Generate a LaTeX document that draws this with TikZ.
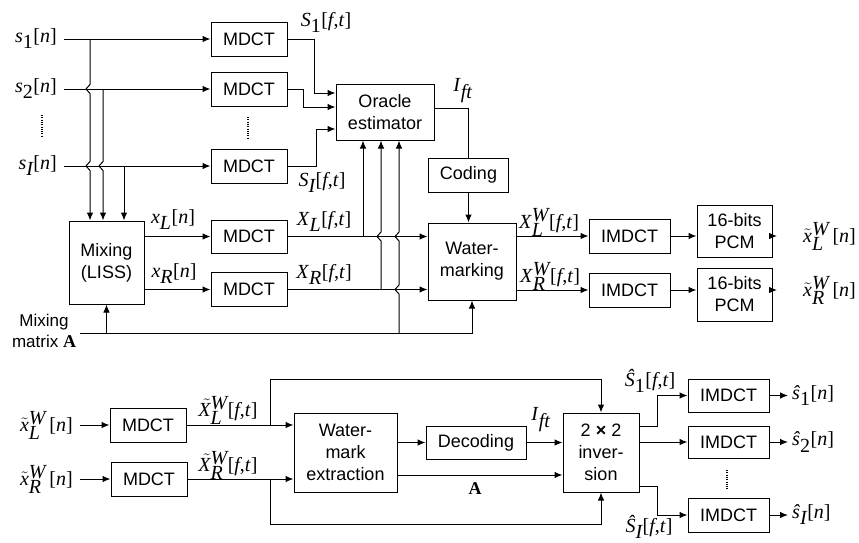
\documentclass[tikz,border=0pt]{standalone}
\usepackage{fontspec}
\setmainfont{Liberation Serif}
\setsansfont{Liberation Sans}
\usetikzlibrary{arrows.meta,calc}
\newcommand{\vi}[1]{\textit{#1}}
\newcommand{\rsub}[1]{$_{\textrm{#1}}$}
\newcommand{\isub}[1]{$_{\textit{#1}}$}
\newcommand{\wsub}[1]{$^{\textit{W}}_{\textit{#1}}$}
\newcommand{\tlx}{$\tilde{\textit{x}}$}
\newcommand{\tlX}{$\skew{4}\tilde{\textit{X}}$}
\begin{document}
\begin{tikzpicture}[x=1pt,y=-1pt,
  box/.style={draw, line width=1pt, font=\sffamily\fontsize{18}{22}\selectfont, align=center, inner sep=0pt},
  lbl/.style={font=\fontsize{20}{22}\selectfont, inner sep=0pt},
  arr/.style={line width=1pt, -{Latex[length=8pt,width=6.5pt]}},
  ln/.style={line width=1pt},
  dotcol/.style={line width=1.1pt, dash pattern=on 1pt off 1.3pt}]
\useasboundingbox (0,0) rectangle (859,542);

% ---------------- top section ----------------
\node[box, minimum width=76pt, minimum height=34pt] (m1) at (249,39) {MDCT};
\node[box, minimum width=76pt, minimum height=34pt] (m2) at (249,89) {MDCT};
\node[box, minimum width=76pt, minimum height=34pt] (m3) at (249,166) {MDCT};
\node[box, minimum width=75pt, minimum height=83pt] (mix) at (106.5,262.5) {Mixing\\(LISS)};
\node[box, minimum width=76pt, minimum height=33pt] (mL) at (249,236.5) {MDCT};
\node[box, minimum width=76pt, minimum height=34pt] (mR) at (249,289.5) {MDCT};
\node[box, minimum width=98pt, minimum height=56pt] (orc) at (385,112) {Oracle\\estimator};
\node[box, minimum width=80pt, minimum height=34pt] (cod) at (468.5,175) {Coding};
\node[box, minimum width=88pt, minimum height=77pt] (wm) at (472,261.5) {Water-\\marking};
\node[box, minimum width=81pt, minimum height=34pt] (iL) at (629.5,236) {IMDCT};
\node[box, minimum width=81pt, minimum height=34pt] (iR) at (629.5,290) {IMDCT};
\node[box, minimum width=75pt, minimum height=52pt] (pL) at (734.5,231) {16-bits\\PCM};
\node[box, minimum width=75pt, minimum height=53pt] (pR) at (734.5,294.5) {16-bits\\PCM};

\node[lbl, anchor=east, inner xsep=7pt] (ls1) at (64,39) {\vi{s}\rsub{1}[\vi{n}]};
\node[lbl, anchor=east, inner xsep=7pt] (ls2) at (64,89) {\vi{s}\rsub{2}[\vi{n}]};
\node[lbl, anchor=east, inner xsep=7pt] (lsI) at (64,166) {\vi{s}\isub{I}[\vi{n}]};
\draw[dotcol] (42,115) -- (42,137);
\draw[dotcol] (248,117) -- (248,139);

\node[lbl] (lS1) at (326,22) {\vi{S}\rsub{1}[\vi{f},\vi{t}]};
\node[lbl] (lSI) at (322,182) {\vi{S}\isub{I}[\vi{f},\vi{t}]};
\node[lbl] (lIft) at (463,91) {\vi{I}\isub{ft}};
\node[lbl] (lxL) at (173,220) {\vi{x}\isub{L}[\vi{n}]};
\node[lbl] (lxR) at (174,274) {\vi{x}\isub{R}[\vi{n}]};
\node[lbl] (lXL) at (324,221) {\vi{X}\isub{L}[\vi{f},\vi{t}]};
\node[lbl] (lXR) at (324,274) {\vi{X}\isub{R}[\vi{f},\vi{t}]};
\node[lbl] (lXLW) at (549,222) {\vi{X}\wsub{L}[\vi{f},\vi{t}]};
\node[lbl] (lXRW) at (550,276) {\vi{X}\wsub{R}[\vi{f},\vi{t}]};
\node[lbl, anchor=west, inner xsep=13pt] (oL) at (790,236) {\tlx\wsub{L}\,[\vi{n}]};
\node[lbl, anchor=west, inner xsep=13pt] (oR) at (790,290) {\tlx\wsub{R}\,[\vi{n}]};
\node[font=\sffamily\fontsize{17}{21}\selectfont, align=center, inner sep=0pt] (mmx) at (44,331)
  {Mixing\\matrix {\rmfamily\bfseries\fontsize{18}{21}\selectfont A}};

% sources to MDCT
\draw[arr] (ls1.east) -- (m1.west);
\draw[arr] (ls2.east) -- (m2.west);
\draw[arr] (lsI.east) -- (m3.west);

% branches to mixing
\coordinate (j1) at (90,39);
\coordinate (j2) at (103,89);
\coordinate (j3) at (124,166);
\draw[arr] (j1) -- (90,84.5) -- (86,89) -- (90,93.5) -- (90,161.5) -- (86,166) -- (90,170.5) -- (j1 |- mix.north);
\draw[arr] (j2) -- (103,161.5) -- (99,166) -- (103,170.5) -- (j2 |- mix.north);
\draw[arr] (j3) -- (j3 |- mix.north);

% MDCT to oracle
\draw[arr] (m1.east) -- ++(27,0) |- ([yshift=19pt]orc.west);
\draw[arr] (m2.east) -- ++(16,0) |- ([yshift=5pt]orc.west);
\draw[arr] (m3.east) -- ++(29,0) |- ([yshift=-17pt]orc.west);

% mixing to MDCT
\draw[arr] (mix.east |- mL.west) -- (mL.west);
\draw[arr] (mix.east |- mR.west) -- (mR.west);

% MDCT to watermarking
\draw[arr] (mL.east) -- (wm.west |- mL.east);
\draw[arr] (mR.east) -- (wm.west |- mR.east);

% vertical feeds to oracle
\coordinate (k1) at (363,236.5);
\coordinate (k2) at (381,289.5);
\coordinate (k3) at (399,333);
\coordinate (mA) at (80,333);
\draw[arr] (k1) -- (k1 |- orc.south);
\draw[arr] (k2) -- (381,241) -- (377,236.5) -- (381,232) -- (k2 |- orc.south);
\draw[arr] (k3) -- (399,294) -- (395,289.5) -- (399,285) -- (399,241) -- (395,236.5) -- (399,232) -- (k3 |- orc.south);

% mixing matrix
\draw[arr] (mA) -| (wm.south);
\draw[arr] (mix.south |- mA) -- (mix.south);

% oracle to coding to watermarking
\draw[ln] ([yshift=4pt]orc.east) -| (cod.north);
\draw[arr] (cod.south) -- (cod.south |- wm.north);

% outputs
\draw[arr] (wm.east |- iL.west) -- (iL.west);
\draw[arr] (wm.east |- iR.west) -- (iR.west);
\draw[arr] (iL.east) -- (pL.west |- iL.east);
\draw[arr] (iR.east) -- (pR.west |- iR.east);
\draw[arr] (pL.east |- oL.west) -- ([xshift=-13pt]oL.west);
\draw[arr] (pR.east |- oR.west) -- ([xshift=-13pt]oR.west);

% ---------------- bottom section ----------------
\node[box, minimum width=76pt, minimum height=34pt] (mbl) at (148,425) {MDCT};
\node[box, minimum width=76pt, minimum height=34pt] (mbr) at (149,479) {MDCT};
\node[box, minimum width=103pt, minimum height=79pt] (ext) at (345.5,452.5) {Water-\\mark\\extraction};
\node[box, minimum width=100pt, minimum height=33pt] (dec) at (476,442.5) {Decoding};
\node[box, minimum width=76pt, minimum height=79pt] (inv) at (601,452.5) {2 \textbf{×} 2\\inver-\\sion};
\node[box, minimum width=81pt, minimum height=33pt] (ib1) at (728.5,395.5) {IMDCT};
\node[box, minimum width=81pt, minimum height=32pt] (ib2) at (728.5,442) {IMDCT};
\node[box, minimum width=81pt, minimum height=34pt] (ib3) at (728.5,515) {IMDCT};

\node[lbl, anchor=east, inner xsep=7pt] (iLb) at (80,425) {\tlx\wsub{L}\,[\vi{n}]};
\node[lbl, anchor=east, inner xsep=7pt] (iRb) at (80,479) {\tlx\wsub{R}\,[\vi{n}]};
\node[lbl] (lXtL) at (228,410) {\tlX\wsub{L}[\vi{f},\vi{t}]};
\node[lbl] (lXtR) at (228,465) {\tlX\wsub{R}[\vi{f},\vi{t}]};
\node[lbl] (lIft2) at (541,420) {\vi{I}\isub{ft}};
\node[lbl, font=\rmfamily\bfseries\fontsize{18}{20}\selectfont] (lA) at (475,489) {A};
\node[lbl] (lSh1) at (650,381) {\vi{\^S}\rsub{1}[\vi{f},\vi{t}]};
\node[lbl] (lShI) at (649,527) {\vi{\^S}\isub{I}[\vi{f},\vi{t}]};
\node[lbl, anchor=west, inner xsep=4pt] (os1) at (788,395.5) {\vi{\^s}\rsub{1}[\vi{n}]};
\node[lbl, anchor=west, inner xsep=4pt] (os2) at (788,442) {\vi{\^s}\rsub{2}[\vi{n}]};
\node[lbl, anchor=west, inner xsep=4pt] (osI) at (788,515) {\vi{\^s}\isub{I}[\vi{n}]};
\draw[dotcol] (727,470) -- (727,489);

\draw[arr] (iLb.east) -- (mbl.west);
\draw[arr] (iRb.east) -- (mbr.west);
\draw[arr] (mbl.east) -- (ext.west |- mbl.east);
\draw[arr] (mbr.east) -- (ext.west |- mbr.east);
\coordinate (b1) at (270,425);
\coordinate (b2) at (270,479);
\draw[arr] (b1) -- ++(0,-46) -| (inv.north);
\draw[arr] (b2) -- ++(0,45) -| (inv.south);
\draw[arr] (ext.east |- dec.west) -- (dec.west);
\draw[arr] (dec.east) -- (inv.west |- dec.east);
\coordinate (aS) at ([yshift=-22.5pt]ext.east);
\draw[arr] (aS) -- (inv.west |- aS);

\draw[arr] ([yshift=26.5pt]inv.east) -- ++(18,0) |- (ib1.west);
\draw[arr] (inv.east |- ib2.west) -- (ib2.west);
\draw[arr] ([yshift=-33.5pt]inv.east) -- ++(18,0) |- (ib3.west);
\draw[arr] (ib1.east) -- (os1.west);
\draw[arr] (ib2.east) -- (os2.west);
\draw[arr] (ib3.east) -- (osI.west);
\end{tikzpicture}
\end{document}
